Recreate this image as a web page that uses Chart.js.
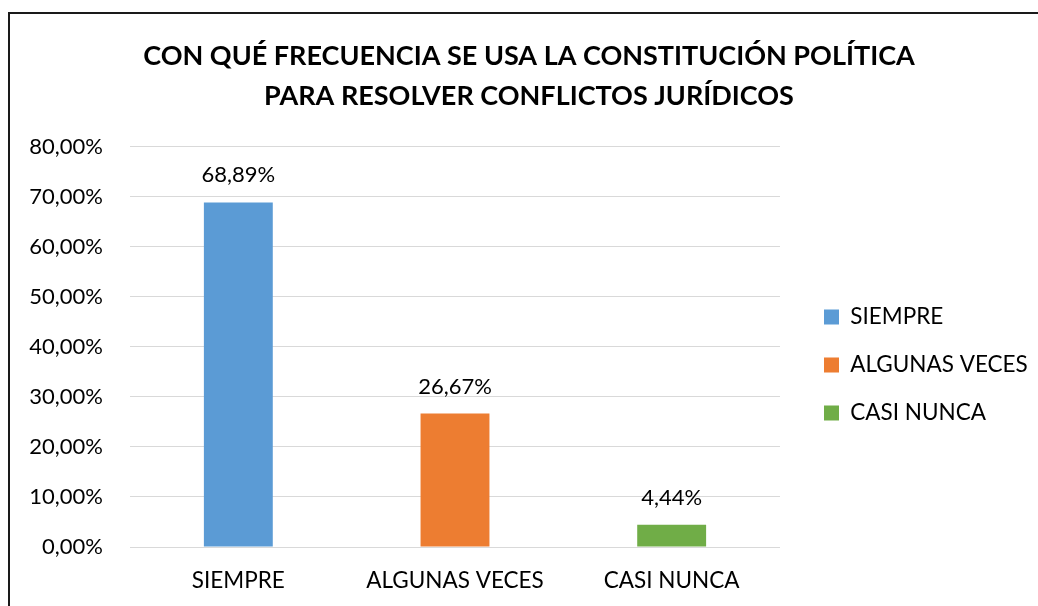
<!DOCTYPE html>
<html lang="es">
<head>
<meta charset="UTF-8">
<title>Uso de la Constitución Política</title>
<script src="https://cdn.jsdelivr.net/npm/chart.js@4/dist/chart.umd.min.js"></script>
<style>
  html, body { margin: 0; padding: 0; background: #fff; overflow: hidden; }
  #wrap { position: relative; width: 1038px; height: 606px; }
  #chart { position: absolute; left: 0; top: 0; }
  /* frame runs off the right and bottom edges */
  #frame { position: absolute; left: 8px; top: 12px; width: 1100px; height: 700px;
           border: 2px solid #1a1a1a; box-sizing: border-box; pointer-events: none; }
</style>
</head>
<body>
<div id="wrap">
  <canvas id="chart" width="1038" height="606"></canvas>
  <div id="frame"></div>
</div>
<script>
// data
const TITLE_LINES = ['CON QUÉ FRECUENCIA SE USA LA CONSTITUCIÓN POLÍTICA', 'PARA RESOLVER CONFLICTOS JURÍDICOS'];
const categories = ['SIEMPRE', 'ALGUNAS VECES', 'CASI NUNCA'];
const percentages = [68.89, 26.67, 4.44];
const barColors = ['#5B9BD5', '#ED7D31', '#70AD47'];
const Y_MIN = 0;
const Y_MAX = 80;
const Y_STEP = 10;

const fmtPct = v => v.toFixed(2).replace('.', ',') + '%';

Chart.defaults.font.family = 'Lato, "Open Sans", sans-serif';
Chart.defaults.color = '#000';

// value above each bar
const barValues = {
  id: 'barValues',
  afterDatasetsDraw(chart) {
    const ctx = chart.ctx;
    const meta = chart.getDatasetMeta(0);
    ctx.save();
    ctx.font = '22px Lato, "Open Sans", sans-serif';
    ctx.fillStyle = '#000';
    ctx.textAlign = 'center';
    ctx.textBaseline = 'alphabetic';
    meta.data.forEach((bar, i) => {
      ctx.fillText(fmtPct(chart.data.datasets[0].data[i]), bar.x, bar.y - 20);
    });
    ctx.restore();
  }
};

// fixed legend column on the right
const legendPlacement = {
  id: 'legendPlacement',
  beforeUpdate(chart) {
    const legend = chart.legend;
    if (legend && !legend._fixedWidth) {
      const fit = legend.fit.bind(legend);
      legend.fit = function () { fit(); this.width = 258; };
      legend._fixedWidth = true;
    }
  },
  afterLayout(chart) {
    const legend = chart.legend;
    legend.left += 18.5;
    legend.right += 18.5;
    legend.top += 50;
    legend.bottom += 50;
  }
};

new Chart(document.getElementById('chart'), {
  type: 'bar',
  data: {
    labels: categories,
    datasets: [{
      label: 'Frecuencia',
      data: percentages,
      backgroundColor: barColors,
      borderWidth: 0,
      categoryPercentage: 1,
      barPercentage: 0.318
    }]
  },
  options: {
    responsive: false,
    animation: false,
    layout: { padding: { left: 20, right: 0, top: 36, bottom: 12 } },
    plugins: {
      title: {
        display: true,
        text: TITLE_LINES,
        color: '#000',
        font: { size: 27, weight: 'bold', lineHeight: 1.48 },
        padding: { top: 0, bottom: 31 }
      },
      legend: {
        position: 'right',
        labels: {
          boxWidth: 15,
          boxHeight: 15,
          padding: 25.5,
          color: '#000',
          font: { size: 22.5 },
          generateLabels(chart) {
            const ds = chart.data.datasets[0];
            return chart.data.labels.map((label, i) => ({
              text: label,
              fillStyle: ds.backgroundColor[i],
              strokeStyle: ds.backgroundColor[i],
              lineWidth: 0,
              hidden: false,
              index: i,
              datasetIndex: 0
            }));
          }
        }
      },
      tooltip: { enabled: false }
    },
    scales: {
      x: {
        grid: { display: false, drawTicks: false },
        border: { display: false },
        ticks: { color: '#000', font: { size: 22.5 }, padding: 20 },
        afterFit(scale) { scale.height = 47; }
      },
      y: {
        min: Y_MIN,
        max: Y_MAX,
        grid: { color: '#d9d9d9', lineWidth: 1, drawTicks: false },
        border: { display: false },
        ticks: {
          stepSize: Y_STEP,
          color: '#000',
          font: { size: 22 },
          padding: 27,
          callback: v => fmtPct(v)
        },
        afterFit(scale) { scale.width = 110; }
      }
    }
  },
  plugins: [barValues, legendPlacement]
});
</script>
</body>
</html>
